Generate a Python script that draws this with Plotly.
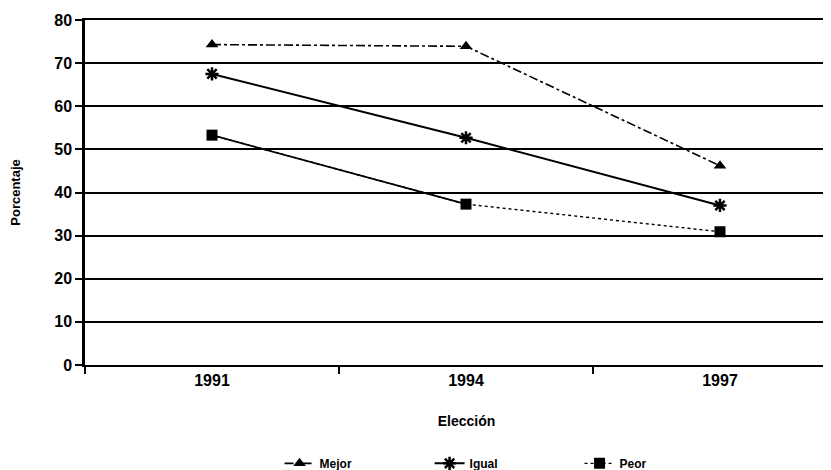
import plotly.graph_objects as go

years = ["1991", "1994", "1997"]
mejor = [74.3, 73.9, 46.2]
igual = [67.5, 52.7, 37.0]
peor = [53.3, 37.3, 30.9]

font = "Liberation Sans, Arial, sans-serif"
fig = go.Figure()

fig.add_trace(go.Scatter(
    x=years, y=mejor, name="<b>Mejor</b>", mode="lines+markers",
    line=dict(color="black", width=1.6, dash="dashdot"),
    marker=dict(symbol="triangle-up", size=11, color="black"),
))
fig.add_trace(go.Scatter(
    x=years, y=igual, name="<b>Igual</b>", mode="lines+markers",
    line=dict(color="black", width=2),
    marker=dict(symbol="asterisk-open", size=11, color="black",
                line=dict(color="black", width=2.5)),
))
fig.add_trace(go.Scatter(
    x=years[:2], y=peor[:2], mode="lines", showlegend=False,
    line=dict(color="black", width=1.6), hoverinfo="skip",
))
fig.add_trace(go.Scatter(
    x=years, y=peor, name="<b>Peor</b>", mode="lines+markers",
    line=dict(color="black", width=1.4, dash="dot"),
    marker=dict(symbol="square", size=11, color="black"),
))

fig.update_layout(
    width=840, height=470,
    margin=dict(l=77, r=0, t=12, b=108),
    paper_bgcolor="white", plot_bgcolor="white",
    font=dict(family=font, color="black", size=14),
    showlegend=True,
    legend=dict(orientation="h", x=0.255, y=-0.285, xanchor="left", yanchor="middle",
                font=dict(size=12), entrywidth=105, entrywidthmode="pixels",
                bgcolor="rgba(0,0,0,0)"),
    xaxis=dict(
        type="category", range=[-0.5, 2.504], tickson="boundaries",
        ticks="outside", ticklen=7, tickwidth=1.5, tickcolor="black",
        showgrid=False, showline=True, mirror=True, linecolor="black", linewidth=2,
        zeroline=False, automargin=False,
        tickfont=dict(size=16, family=font),
        tickvals=years, ticktext=["<b>%s</b>" % y for y in years],
        title=dict(text="<b>Elección</b>", font=dict(size=14), standoff=28),
    ),
    yaxis=dict(
        range=[0, 80], dtick=10, ticks="outside", ticklen=7, tickwidth=2,
        tickcolor="black", showgrid=True, gridcolor="black", gridwidth=2,
        showline=True, linecolor="black", linewidth=2.5, zeroline=False,
        automargin=False,
        tickvals=list(range(0, 81, 10)),
        ticktext=["<b>%d</b>" % v for v in range(0, 81, 10)],
        tickfont=dict(size=16),
        title=dict(text="<b>Porcentaje</b>", font=dict(size=13), standoff=50),
    ),
)

fig.write_html("out.html")
